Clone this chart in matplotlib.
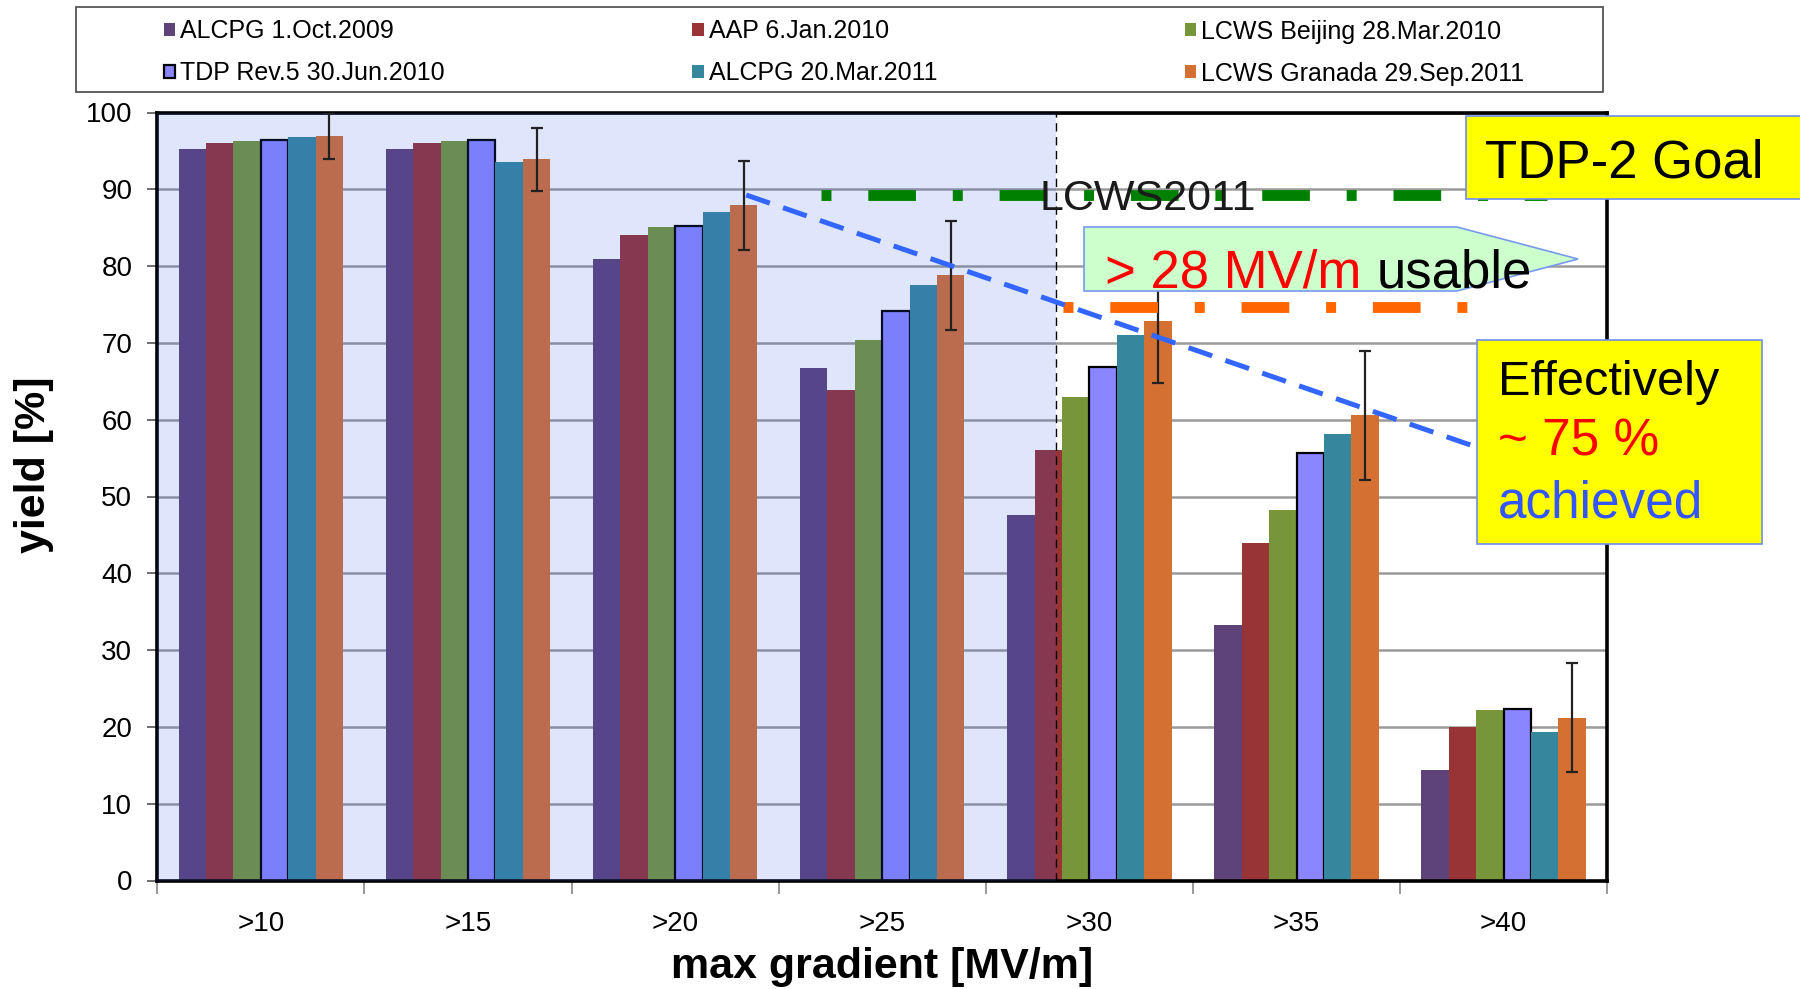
import matplotlib
matplotlib.use('Agg')
import matplotlib.pyplot as plt
from matplotlib import font_manager
from matplotlib.patches import Rectangle, Polygon
import numpy as np

# ---------------- data ----------------
categories = ['>10', '>15', '>20', '>25', '>30', '>35', '>40']
series_names = ['ALCPG 1.Oct.2009', 'AAP 6.Jan.2010', 'LCWS Beijing 28.Mar.2010',
                'TDP Rev.5 30.Jun.2010', 'ALCPG 20.Mar.2011', 'LCWS Granada 29.Sep.2011']
alcpg_2009 = [95.2, 95.2, 80.9, 66.7, 47.6, 33.3, 14.4]
aap_2010 = [96.0, 96.0, 84.0, 63.9, 56.1, 44.0, 20.0]
beijing_2010 = [96.3, 96.3, 85.1, 70.4, 63.0, 48.2, 22.2]
tdp_2010 = [96.4, 96.4, 85.2, 74.2, 66.8, 55.7, 22.3]
alcpg_2011 = [96.8, 93.5, 87.1, 77.5, 71.0, 58.2, 19.4]
granada_2011 = [96.9, 93.9, 87.9, 78.8, 72.8, 60.6, 21.2]
granada_err = [3.0, 4.1, 5.8, 7.1, 8.0, 8.4, 7.1]
yticks = list(range(0, 101, 10))

lcws2011_level = 89.3          # green dash-dot line
usable_level = 74.7            # orange dash-dot line
lcws_line_x = [2.705, 6.207]
usable_line_x = [3.873, 5.835]
trend_x = [2.343, 5.867]       # blue dashed trend line
trend_y = [89.26, 56.45]
shade_until = 3.84             # end of shaded (earlier) region

# ---------------- style ----------------
names = {f.name for f in font_manager.fontManager.ttflist}
narrow = 'Liberation Sans Narrow' if 'Liberation Sans Narrow' in names else 'Liberation Sans'
plt.rcParams['font.family'] = ['Liberation Sans', 'DejaVu Sans']

colors = ['#5E4378', '#983336', '#779639', '#8A86FF', '#36879D', '#D57033']
edges = ['none', 'none', 'none', 'black', 'none', 'none']
series = [alcpg_2009, aap_2010, beijing_2010, tdp_2010, alcpg_2011, granada_2011]

W, H = 1800, 989
fig = plt.figure(figsize=(W / 100, H / 100), dpi=100)

def fx(px):
    return px / W

def fy(py):
    return 1 - py / H

ax = fig.add_axes([fx(157.3), fy(880.5), (1607.2 - 157.3) / W, 768 / H])

x = np.arange(len(categories))
bw = 0.1323
handles = []
for i, (vals, c, ec, name) in enumerate(zip(series, colors, edges, series_names)):
    lw = 1.6 if ec != 'none' else 0
    bars = ax.bar(x + (i - 2.5) * bw, vals, width=bw, color=c, edgecolor=ec,
                  linewidth=lw, zorder=2, label=name)
    handles.append(bars)

# error bars on latest series
ax.errorbar(x + 2.5 * bw, granada_2011, yerr=granada_err, fmt='none',
            ecolor='#222222', elinewidth=1.6, capsize=4, capthick=1.6, zorder=5)

# shaded earlier region (translucent overlay)
ax.add_patch(Rectangle((-0.5, 0), shade_until + 0.5, 100, facecolor='#2A59ED',
                       alpha=0.15, linewidth=0, zorder=3))
ax.plot([shade_until, shade_until], [0, 100], color='black', lw=1.0,
        ls=(0, (6, 4)), zorder=4)

# reference lines
dashdot = (0, (0.92, 3.4, 4.4, 3.4))
ax.plot(lcws_line_x, [lcws2011_level] * 2, color='#008000', lw=7.8,
        ls=dashdot, dash_capstyle='butt', zorder=6)
ax.plot(usable_line_x, [usable_level] * 2, color='#FF6600', lw=7.8,
        ls=dashdot, dash_capstyle='butt', zorder=6)
ax.plot(trend_x, trend_y, color='#3366FF', lw=3.6, ls=(0, (5, 2.8)),
        dash_capstyle='butt', zorder=7)
ax.text(4.28, 87.3, 'LCWS2011', fontsize=31, family=narrow, color='#1a1a1a',
        ha='center', va='baseline', zorder=8)

# axes styling
ax.set_xlim(-0.5, 6.5)
ax.set_ylim(0, 100)
ax.set_yticks(yticks)
ax.set_xticks(x)
ax.set_xticklabels(categories, fontsize=20)
ax.set_xticks(np.arange(-0.5, 7, 1), minor=True)
ax.tick_params(axis='x', which='major', length=0, pad=22)
ax.tick_params(axis='x', which='minor', length=9, width=1.2, color='#888888')
ax.tick_params(axis='y', length=7, width=1.2, color='#555555', pad=11, labelsize=20)
ax.yaxis.grid(True, color='#9a9a9a', lw=1.8)
ax.set_axisbelow(True)
for s in ax.spines.values():
    s.set_linewidth(2.6)
    s.set_color('black')

fig.text(fx(882), fy(967), 'max gradient [MV/m]', fontsize=31, fontweight='bold',
         ha='center', va='center')
fig.text(fx(34), fy(465), 'yield [%]', fontsize=31, fontweight='bold',
         rotation=90, ha='center', va='center')

# legend (row-major order)
order = [0, 3, 1, 4, 2, 5]
leg = fig.legend([handles[k] for k in order], [series_names[k] for k in order],
                 ncol=3, loc='center', mode='expand', frameon=False,
                 bbox_to_anchor=(fx(164), fy(95), (1524 - 164) / W, 85 / H),
                 fontsize=18, handlelength=0.45, handleheight=0.45,
                 handletextpad=0.2, labelspacing=0.72, borderpad=0, borderaxespad=0)
fig.add_artist(Rectangle((fx(76), fy(92)), (1603 - 76) / W, 85 / H,
                         transform=fig.transFigure, facecolor='none',
                         edgecolor='#555555', lw=1.3, zorder=1))

# annotation boxes
fig.add_artist(Rectangle((fx(1466), fy(199)), (1810 - 1466) / W, 83 / H,
                         transform=fig.transFigure, facecolor='#FFFF00',
                         edgecolor='#6E8CF0', lw=1.2, zorder=5))
fig.text(fx(1485), fy(177), 'TDP-2 Goal', fontsize=38, color='black',
         ha='left', va='baseline', zorder=6)

arrow_pts = [(fx(1084), fy(227)), (fx(1457), fy(227)), (fx(1578), fy(259)),
             (fx(1457), fy(291)), (fx(1084), fy(291))]
fig.add_artist(Polygon(arrow_pts, closed=True, transform=fig.transFigure,
                       facecolor='#CCFFCC', edgecolor='#7799EE', lw=1.2, zorder=5))
fig.text(fx(1105), fy(288), '> 28 MV/m', fontsize=38, color='#FF0000',
         ha='left', va='baseline', zorder=6)
fig.text(fx(1377), fy(288), 'usable', fontsize=38, color='black',
         ha='left', va='baseline', zorder=6)

fig.add_artist(Rectangle((fx(1477), fy(544)), (1762 - 1477) / W, 204 / H,
                         transform=fig.transFigure, facecolor='#FFFF00',
                         edgecolor='#6E8CF0', lw=1.2, zorder=5))
fig.text(fx(1498), fy(395), 'Effectively', fontsize=35, color='black',
         ha='left', va='baseline', zorder=6)
fig.text(fx(1498), fy(456), '~ 75 %', fontsize=37, color='#FF0000',
         ha='left', va='baseline', zorder=6)
fig.text(fx(1498), fy(517), 'achieved', fontsize=37, color='#3355FF',
         ha='left', va='baseline', zorder=6)

fig.savefig('out.png', dpi=100)
